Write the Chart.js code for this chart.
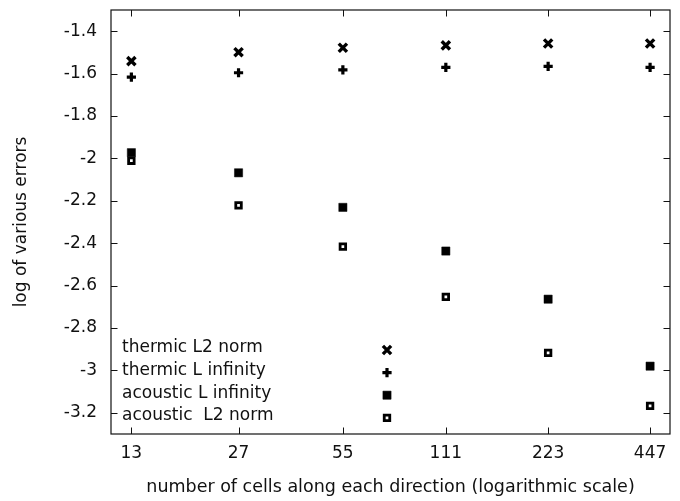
<!DOCTYPE html>
<html>
<head>
<meta charset="utf-8">
<script src="https://cdn.jsdelivr.net/npm/chart.js@4/dist/chart.umd.min.js"></script>
<style>
html,body{margin:0;padding:0;background:#fff;}
canvas{display:block;}
</style>
</head>
<body>
<canvas id="c" width="680" height="501"></canvas>
<script>
// ---- data ----
const cells = [13, 27, 55, 111, 223, 447];
const thermicL2 = [-1.541, -1.499, -1.478, -1.467, -1.458, -1.458];
const thermicLinf = [-1.617, -1.596, -1.582, -1.571, -1.566, -1.571];
const acousticLinf = [-1.973, -2.068, -2.231, -2.437, -2.664, -2.980];
const acousticL2 = [-2.011, -2.222, -2.416, -2.653, -2.917, -3.167];
const seriesNames = ['thermic L2 norm', 'thermic L infinity', 'acoustic L infinity', 'acoustic  L2 norm'];
const xTicks = [13, 27, 55, 111, 223, 447];
const yTicks = [-3.2, -3.0, -2.8, -2.6, -2.4, -2.2, -2.0, -1.8, -1.6, -1.4];
const xTitle = 'number of cells along each direction (logarithmic scale)';
const yTitle = 'log of various errors';

const FONT = 'DejaVu Sans';
const INK = '#111';

function pts(ys) { return cells.map((c, i) => ({x: c, y: ys[i]})); }

const styles = [
  {pointStyle: 'crossRot', pointRadius: 5.8, borderWidth: 3.4, borderColor: '#000', backgroundColor: '#000'},
  {pointStyle: 'cross', pointRadius: 4.6, borderWidth: 3.2, borderColor: '#000', backgroundColor: '#000'},
  {pointStyle: 'rect', pointRadius: 5.8, borderWidth: 0.5, borderColor: '#000', backgroundColor: '#000'},
  {pointStyle: 'rect', pointRadius: 3.9, borderWidth: 2.8, borderColor: '#000', backgroundColor: '#fff'}
];
const allSeries = [thermicL2, thermicLinf, acousticLinf, acousticL2];

const datasets = allSeries.map((s, i) => Object.assign({
  label: seriesNames[i],
  data: pts(s),
  showLine: false,
  pointHoverRadius: styles[i].pointRadius
}, styles[i]));

const frame = {
  id: 'frame',
  afterDatasetsDraw(chart) {
    const {ctx, chartArea: a, scales} = chart;
    ctx.save();
    ctx.strokeStyle = '#111';
    ctx.lineWidth = 1.2;
    ctx.strokeRect(a.left, a.top, a.right - a.left, a.bottom - a.top);
    ctx.lineWidth = 1;
    const tl = 6.5;
    ctx.beginPath();
    scales.y.ticks.forEach(t => {
      const y = Math.round(scales.y.getPixelForValue(t.value)) + 0.5;
      ctx.moveTo(a.left, y); ctx.lineTo(a.left + tl, y);
      ctx.moveTo(a.right, y); ctx.lineTo(a.right - tl, y);
    });
    scales.x.ticks.forEach(t => {
      const x = Math.round(scales.x.getPixelForValue(t.value)) + 0.5;
      ctx.moveTo(x, a.bottom); ctx.lineTo(x, a.bottom - tl);
      ctx.moveTo(x, a.top); ctx.lineTo(x, a.top + tl);
    });
    ctx.stroke();

    // legend inside plot
    const lx = a.left + 11;
    const mx = a.left + 276;
    const my0 = a.bottom - 84;
    const step = 22.6;
    ctx.font = '17px "' + FONT + '"';
    ctx.textAlign = 'left';
    ctx.textBaseline = 'middle';
    chart.data.datasets.forEach((ds, i) => {
      const y = my0 + i * step;
      ctx.fillStyle = INK;
      ctx.fillText(ds.label, lx, y - 2);
      ctx.lineWidth = ds.borderWidth;
      ctx.strokeStyle = ds.borderColor;
      ctx.fillStyle = ds.backgroundColor;
      Chart.helpers.drawPoint(ctx, {pointStyle: ds.pointStyle, radius: ds.pointRadius, borderWidth: ds.borderWidth, rotation: 0}, mx, y);
    });
    ctx.restore();
  }
};

new Chart(document.getElementById('c'), {
  type: 'scatter',
  data: {datasets},
  plugins: [frame],
  options: {
    responsive: false,
    animation: false,
    devicePixelRatio: 1,
    layout: {padding: {left: 0, right: 10, top: 10, bottom: 0}},
    plugins: {legend: {display: false}, tooltip: {enabled: false}},
    scales: {
      x: {
        type: 'logarithmic',
        min: Math.pow(2, 3.5),
        max: Math.pow(2, 9),
        afterBuildTicks(scale) { scale.ticks = xTicks.map(v => ({value: v})); },
        afterFit(scale) { scale.height = 67; scale.paddingLeft = 0; scale.paddingRight = 0; },
        grid: {display: false, drawTicks: false},
        border: {display: false},
        ticks: {
          color: INK, font: {family: FONT, size: 17}, padding: 9,
          maxRotation: 0, autoSkip: false,
          callback: (v) => String(v)
        },
        title: {display: true, text: xTitle, color: INK, font: {family: FONT, size: 17.5}, padding: {top: 0, bottom: 3}}
      },
      y: {
        min: -3.3,
        max: -1.3,
        afterBuildTicks(scale) { scale.ticks = yTicks.map(v => ({value: v})); },
        afterFit(scale) { scale.width = 111; scale.paddingTop = 0; scale.paddingBottom = 0; },
        grid: {display: false, drawTicks: false},
        border: {display: false},
        ticks: {
          color: INK, font: {family: FONT, size: 17}, padding: 14,
          callback: (v) => String(Number(v.toFixed(1)))
        },
        title: {display: true, text: yTitle, color: INK, font: {family: FONT, size: 17}, padding: {top: 11, bottom: 0}}
      }
    }
  }
});
</script>
</body>
</html>
